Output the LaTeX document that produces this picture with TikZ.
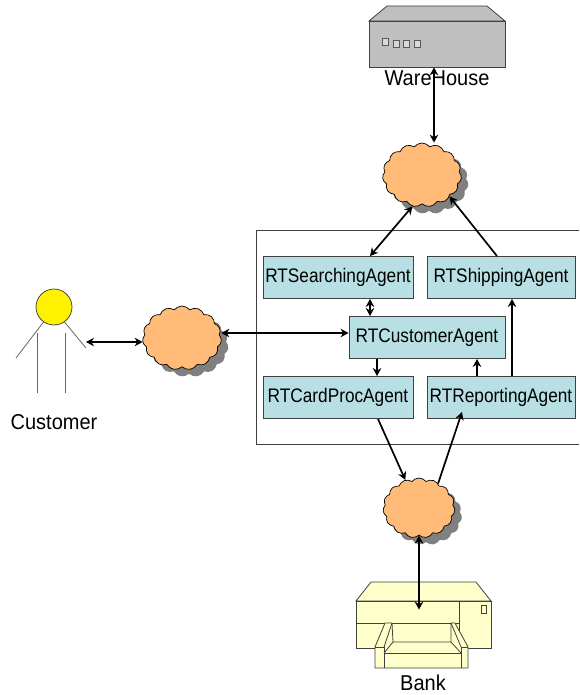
\documentclass[tikz,border=0pt]{standalone}
\usepackage{fontspec}
\setmainfont{Liberation Sans}
\newfontfamily\narrowfont[FakeStretch=0.88]{Liberation Sans}
\newfontfamily\labelfont[FakeStretch=0.93]{Liberation Sans}
\usetikzlibrary{shapes,arrows,arrows.meta,shadows}
\definecolor{agentblue}{RGB}{184,224,228}
\definecolor{cloudorange}{RGB}{255,187,119}
\definecolor{printeryellow}{RGB}{255,255,204}
\definecolor{linegray}{RGB}{64,64,64}

\begin{document}
\begin{tikzpicture}[x=1pt, y=-1pt, thick]
\tikzstyle{agent}=[rectangle, draw=linegray, fill=agentblue, line width=0.9pt, inner sep=0pt, minimum height=42pt, font=\narrowfont\fontsize{19.6}{22}\selectfont]
\tikzstyle{netcloud}=[cloud, cloud puffs=15, cloud puff arc=105, cloud ignores aspect, draw=black, line width=0.7pt, fill=cloudorange, inner sep=0pt, minimum width=79pt, minimum height=64pt, copy shadow={shadow xshift=7pt, shadow yshift=-7pt, draw=none, fill=gray}]
\tikzstyle{caption}=[inner sep=0pt, font=\labelfont\fontsize{21.5}{24}\selectfont]
\tikzstyle{device}=[draw=black!75, line width=0.8pt]
\tikzstyle{limb}=[draw=black!60, line width=0.8pt]
\tikzstyle{drawstyle}=[line width=1.7pt, -{Stealth[length=8pt,width=8.5pt]}]
\tikzstyle{drawboth}=[line width=1.7pt, {Stealth[length=8pt,width=8.5pt]}-{Stealth[length=8pt,width=8.5pt]}]

\useasboundingbox (0,0) rectangle (579,695);

% outer frame, runs off the right side
\path[draw=linegray, line width=0.9pt] (579,230) -- (256.5,230) -- (256.5,444) -- (579,444);

\node[agent, minimum width=150pt] (RTSearch) at (338,277.5) {RTSearchingAgent};
\node[agent, minimum width=148pt] (RTShip) at (501,277.5) {RTShippingAgent};
\node[agent, minimum width=156pt] (RTCust) at (427,337.5) {RTCustomerAgent};
\node[agent, minimum width=150pt] (RTCard) at (338,397.5) {RTCardProcAgent};
\node[agent, minimum width=148pt] (RTRep) at (501,397.5) {RTReportingAgent};

\node[netcloud] (CloudTop) at (422,175) {};
\node[netcloud] (CloudLeft) at (182,338) {};
\node[netcloud, minimum width=72pt, minimum height=60pt] (CloudBot) at (419,508) {};

% warehouse
\path[device, fill=gray!50] (369,21) -- (387,6) -- (487,6) -- (505,21) -- cycle;
\node[device, rectangle, fill=gray!50, minimum width=136pt, minimum height=46pt] (WareBox) at (437,44) {};
\foreach \i/\j in {382/38, 393/40, 403/40, 414/40}
  \path[draw=black!65, line width=0.8pt, fill=gray!30] (\i,\j) rectangle +(6,7);
\node[caption] (WareLabel) at (437,78) {WareHouse};

% customer
\node[circle, draw=black!80, fill=yellow, line width=0.7pt, inner sep=0pt, minimum size=36pt] (Head) at (54,307) {};
\draw[limb] (Head.-125) -- (16,358);
\draw[limb] (Head.-55) -- (86,348);
\draw[limb] (37,333) -- (37,393);
\draw[limb] (65,333) -- (65,393);
\coordinate (Hand) at (86,342);
\node[caption] (CustLabel) at (54,422) {Customer};

% bank
\path[device, fill=printeryellow] (356,601) -- (371,582) -- (476,582) -- (491,601) -- cycle;
\node[device, rectangle, fill=printeryellow, minimum width=135pt, minimum height=47pt] (BankBox) at (423.5,624.5) {};
\path[device] (459,601) -- (459,648);
\path[device] (356,623) -- (459,623);
\path[device, fill=printeryellow] (481,605) rectangle (486,613);
\path[device, fill=printeryellow] (375,647) -- (385,623) -- (392,623) -- (393,642) -- (451,642) -- (451,623) -- (455,623) -- (468,647) -- (468,668) -- (375,668) -- cycle;
\path[device] (384,647) -- (392,623);
\path[device] (384,647) -- (384,668);
\path[device] (461,647) -- (451,623);
\path[device] (461,647) -- (461,668);
\path[device] (384,653) -- (461,653);
\path[device] (393,642) -- (384,653);
\path[device] (451,642) -- (461,653);
\path[device] (375,647) -- (384,647);
\path[device] (461,647) -- (468,647);
\node[caption] (BankLabel) at (423,683) {Bank};

\draw[drawboth] ([xshift=-3pt]WareBox.south) -- ([xshift=12pt]CloudTop.north);
\draw[drawboth] (CloudTop.-107) -- ([xshift=32pt]RTSearch.north);
\draw[drawstyle] ([xshift=-4pt]RTShip.north) -- (CloudTop.-38);
\draw[drawboth] ([xshift=32pt]RTSearch.south) -- ([xshift=-57pt]RTCust.north);
\draw[drawboth] ([yshift=5pt]CloudLeft.east) -- ([yshift=4.5pt]RTCust.west);
\draw[drawboth] (Hand) -- ([yshift=-4pt]CloudLeft.west);
\draw[drawstyle] ([xshift=-50pt]RTCust.south) -- ([xshift=39pt]RTCard.north);
\draw[drawstyle] ([xshift=-24pt]RTRep.north) -- ([xshift=50pt]RTCust.south);
\draw[drawstyle] ([xshift=11pt]RTRep.north) -- ([xshift=11pt]RTShip.south);
\draw[drawstyle] ([xshift=40pt]RTCard.south) -- (CloudBot.116);
\draw[drawstyle] (CloudBot.52) -- ([xshift=-39pt,yshift=7pt]RTRep.south);
\draw[drawboth] (CloudBot.south) -- ([xshift=-4.5pt,yshift=-9pt]BankBox.north);
\end{tikzpicture}
\end{document}
